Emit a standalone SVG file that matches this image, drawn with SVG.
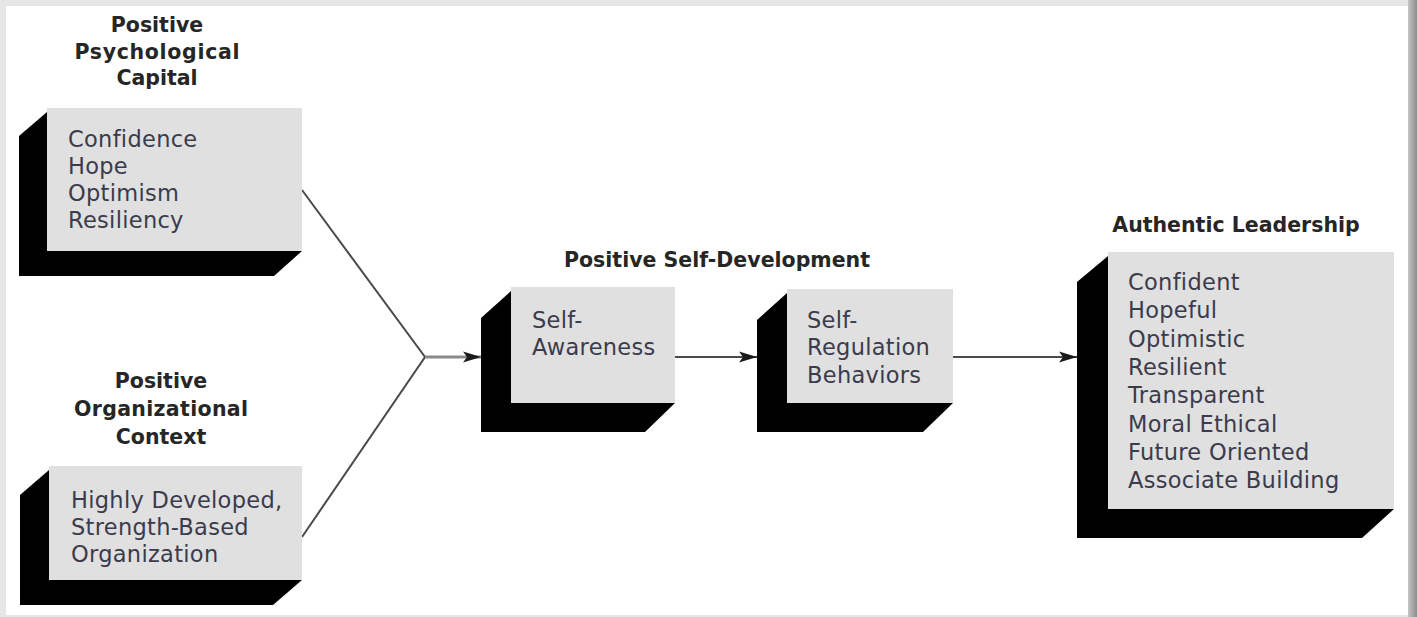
<svg xmlns="http://www.w3.org/2000/svg" width="1417" height="617" viewBox="0 0 1417 617">
  <defs>
    <linearGradient id="edgeRight" x1="0" y1="0" x2="1" y2="0">
      <stop offset="0" stop-color="#c4c4c4"/>
      <stop offset="1" stop-color="#8e8e8e"/>
    </linearGradient>
    <marker id="arrow" markerUnits="userSpaceOnUse" markerWidth="20" markerHeight="12" refX="18" refY="6" orient="auto">
      <path d="M0,0.5 L18,6 L0,11.5 L4,6 Z" fill="#1a1a1a"/>
    </marker>
    <style>
      .face { fill: #e0e0e0; }
      .depth { fill: #000; }
      .head { font-family: "DejaVu Sans", "Liberation Sans", sans-serif; font-weight: bold; font-size: 20.5px; fill: #262626; text-anchor: middle; }
      .item { font-family: "DejaVu Sans", "Liberation Sans", sans-serif; font-size: 22.5px; letter-spacing: 0.3px; fill: #3b3b4c; }
      .link { fill: none; stroke: #4a4a4a; stroke-width: 2; }
      .feed { fill: none; stroke: #8a8a8a; stroke-width: 3; }
    </style>
  </defs>

  <!-- page frame -->
  <rect x="0" y="0" width="1417" height="617" fill="#e6e6e6"/>
  <rect x="1408" y="0" width="9" height="617" fill="url(#edgeRight)"/>
  <rect x="6" y="6" width="1402" height="609" fill="#ffffff"/>

  <!-- connectors -->
  <g id="connectors">
    <polyline class="link" points="302,190 425,357 302,537"/>
    <line class="feed" x1="425" y1="357" x2="481" y2="357" marker-end="url(#arrow)"/>
    <line class="link" x1="675" y1="357" x2="757" y2="357" marker-end="url(#arrow)"/>
    <line class="link" x1="953" y1="357" x2="1077" y2="357" marker-end="url(#arrow)"/>
  </g>

  <!-- Positive Psychological Capital -->
  <g id="psych-capital">
    <text class="head" x="157" y="32">Positive</text>
    <text class="head" x="157" y="58.5" textLength="165">Psychological</text>
    <text class="head" x="157" y="85">Capital</text>
    <polygon class="depth" points="47,112 19,136 19,276 274,276 302,251 302,112"/>
    <rect class="face" x="47" y="108" width="255" height="143"/>
    <text class="item" x="68" y="147">Confidence</text>
    <text class="item" x="68" y="174">Hope</text>
    <text class="item" x="68" y="201">Optimism</text>
    <text class="item" x="68" y="228">Resiliency</text>
  </g>

  <!-- Positive Organizational Context -->
  <g id="org-context">
    <text class="head" x="161" y="388">Positive</text>
    <text class="head" x="161" y="416" textLength="174">Organizational</text>
    <text class="head" x="161" y="444">Context</text>
    <polygon class="depth" points="49,470 20,495 20,605 273,605 302,580 302,470"/>
    <rect class="face" x="49" y="466" width="253" height="114"/>
    <text class="item" x="71" y="508">Highly Developed,</text>
    <text class="item" x="71" y="535">Strength-Based</text>
    <text class="item" x="71" y="562">Organization</text>
  </g>

  <!-- Positive Self-Development heading -->
  <g id="self-development">
    <text class="head" x="717" y="267">Positive Self-Development</text>
  </g>

  <!-- Self-Awareness -->
  <g id="self-awareness">
    <polygon class="depth" points="511,291 481,318 481,432 645,432 675,403 675,291"/>
    <rect class="face" x="511" y="287" width="164" height="116"/>
    <text class="item" x="532" y="328">Self-</text>
    <text class="item" x="532" y="355">Awareness</text>
  </g>

  <!-- Self-Regulation Behaviors -->
  <g id="self-regulation">
    <polygon class="depth" points="787,293 757,320 757,432 923,432 953,403 953,293"/>
    <rect class="face" x="787" y="289" width="166" height="114"/>
    <text class="item" x="807" y="328">Self-</text>
    <text class="item" x="807" y="355">Regulation</text>
    <text class="item" x="807" y="383">Behaviors</text>
  </g>

  <!-- Authentic Leadership -->
  <g id="authentic-leadership">
    <text class="head" x="1236" y="232">Authentic Leadership</text>
    <polygon class="depth" points="1108,256 1077,282 1077,538 1362,538 1394,509 1394,256"/>
    <rect class="face" x="1108" y="252" width="286" height="257"/>
    <text class="item" x="1128" y="290">Confident</text>
    <text class="item" x="1128" y="318">Hopeful</text>
    <text class="item" x="1128" y="347">Optimistic</text>
    <text class="item" x="1128" y="375">Resilient</text>
    <text class="item" x="1128" y="403">Transparent</text>
    <text class="item" x="1128" y="432">Moral Ethical</text>
    <text class="item" x="1128" y="460">Future Oriented</text>
    <text class="item" x="1128" y="488">Associate Building</text>
  </g>
</svg>
